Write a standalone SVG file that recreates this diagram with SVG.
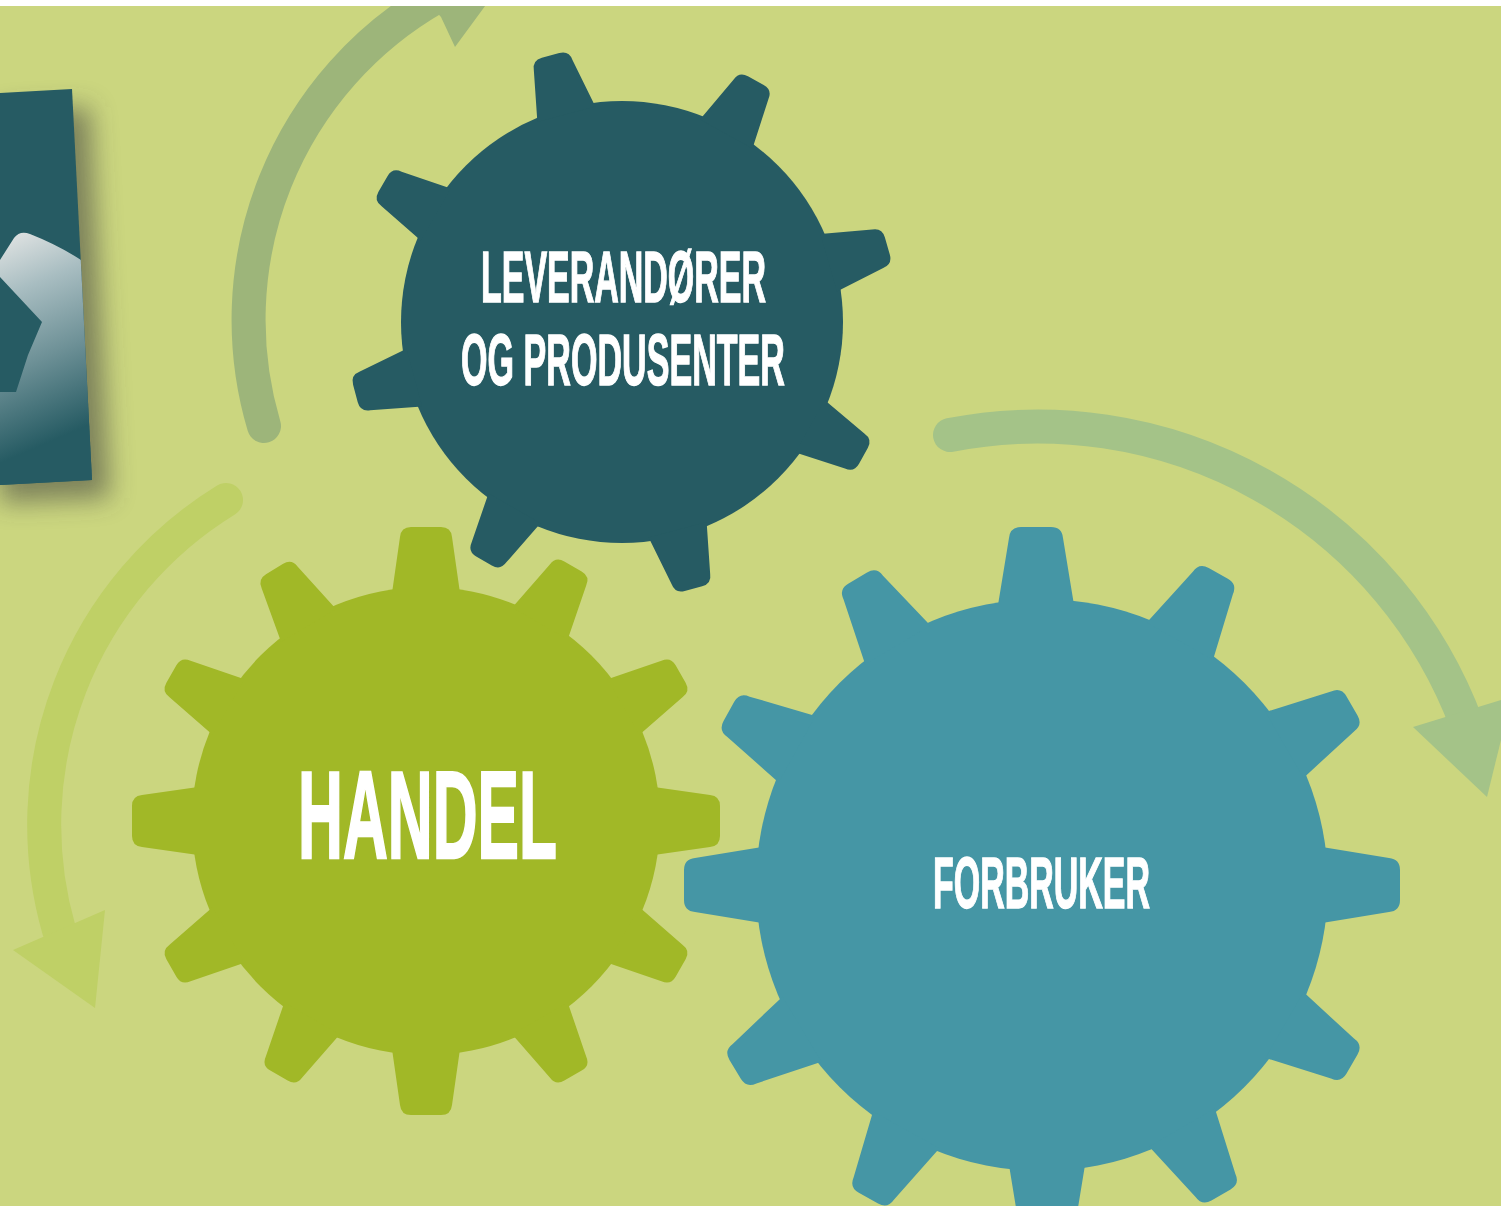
<svg xmlns="http://www.w3.org/2000/svg" width="1501" height="1206" viewBox="0 0 1501 1206">
<style>
.lbl{font-family:"Liberation Sans",Arial,sans-serif;font-weight:700;fill:#fff;stroke:#fff;stroke-width:1.4}
.arc{fill:none;stroke-width:34;stroke-linecap:round}
.g1{fill:#265B63}.g2{fill:#A1B827}.g3{fill:#4596A5}
</style>
<defs>
<clipPath id="page"><rect x="0" y="6" width="1501" height="1200"/></clipPath>
<clipPath id="panelClip"><polygon points="0,93 72,89 92,480 0,485"/></clipPath>
<linearGradient id="cogFade" gradientUnits="userSpaceOnUse" x1="20" y1="235" x2="100" y2="420">
<stop offset="0" stop-color="#DADFDF"/><stop offset=".25" stop-color="#A8BDC1"/><stop offset=".6" stop-color="#6E9197"/><stop offset="1" stop-color="#265B63"/>
</linearGradient>
<filter id="shadow" x="-60%" y="-20%" width="220%" height="140%"><feGaussianBlur stdDeviation="13"/></filter>
<path id="t1" d="M-30,-215 L-20,-266 Q-19,-276 -9,-276 L9,-276 Q19,-276 20,-266 L30,-215 Z"/>
<path id="t2a" d="M-34,-228 L-26,-284 Q-25,-294 -15,-294 L15,-294 Q25,-294 26,-284 L34,-228 Z"/>
<path id="t2d" d="M-32,-228 L-21,-284 Q-20,-294 -10,-294 L10,-294 Q20,-294 21,-284 L32,-228 Z"/>
<path id="t3a" d="M-38,-280 L-27,-347 Q-26,-358 -15,-358 L15,-358 Q26,-358 27,-347 L38,-280 Z"/>
<path id="t3d" d="M-38,-280 L-23,-347 Q-22,-358 -11,-358 L11,-358 Q22,-358 23,-347 L38,-280 Z"/>
</defs>
<rect width="1501" height="1206" fill="#fff"/>
<g clip-path="url(#page)">
<rect x="0" y="6" width="1501" height="1200" fill="#CBD67F"/>
<g id="connectors">
<g id="arrow-top"><path class="arc" stroke="#9DB57A" d="M264,426 A372,372 0 0 1 436,-3"/><polygon fill="#9DB57A" points="441,17 455,47 510,-28 400,-28"/></g>
<g id="arrow-right"><path class="arc" stroke="#A4C388" d="M950,435 A458,458 0 0 1 1467,725"/><polygon fill="#A4C388" points="1413,727 1501,700 1501,740 1487,797"/></g>
<g id="arrow-left"><path class="arc" stroke="#BFD066" d="M226,500 A381,381 0 0 0 59,930"/><polygon fill="#BFD066" points="13,950 105,910 95,1008"/></g>
</g>
<g id="panel">
<polygon points="0,111 90,107 110,498 0,503" fill="#3c3c3c" opacity=".55" filter="url(#shadow)"/>
<polygon points="0,93 72,89 92,480 0,485" fill="#265B63"/>
<g clip-path="url(#panelClip)">
<path d="M0,260 L14,238 Q20,230 30,234 Q58,245 81,260 L100,490 L0,490 Z" fill="url(#cogFade)"/>
<polygon points="0,277 42,322 28,355 16,392 0,392" fill="#265B63"/>
</g>
</g>
<g id="node-forbruker" class="g3">
<circle cx="1042" cy="885" r="286"/>
<use href="#t3a" transform="translate(1036 885)"/><use href="#t3d" transform="translate(1042 885) rotate(29.5)"/><use href="#t3d" transform="translate(1042 885) rotate(60)"/><use href="#t3a" transform="translate(1042 885) rotate(90)"/><use href="#t3d" transform="translate(1042 885) rotate(120)"/><use href="#t3d" transform="translate(1042 885) rotate(150)"/><use href="#t3a" transform="translate(1047 885) rotate(180)"/><use href="#t3d" transform="translate(1042 885) rotate(209)"/><use href="#t3d" transform="translate(1042 885) rotate(239)"/><use href="#t3a" transform="translate(1042 885) rotate(270)"/><use href="#t3d" transform="translate(1042 885) rotate(299)"/><use href="#t3d" transform="translate(1042 885) rotate(329)"/>
<text class="lbl" x="933" y="908" font-size="72" textLength="217" lengthAdjust="spacingAndGlyphs">FORBRUKER</text>
</g>
<g id="node-handel" class="g2">
<circle cx="426" cy="821" r="234"/>
<use href="#t2a" transform="translate(426 821)"/><use href="#t2d" transform="translate(426 821) rotate(30)"/><use href="#t2d" transform="translate(426 821) rotate(60)"/><use href="#t2a" transform="translate(426 821) rotate(90)"/><use href="#t2d" transform="translate(426 821) rotate(120)"/><use href="#t2d" transform="translate(426 821) rotate(150)"/><use href="#t2a" transform="translate(426 821) rotate(180)"/><use href="#t2d" transform="translate(426 821) rotate(210)"/><use href="#t2d" transform="translate(426 821) rotate(240)"/><use href="#t2a" transform="translate(426 821) rotate(270)"/><use href="#t2d" transform="translate(426 821) rotate(300)"/><use href="#t2d" transform="translate(426 821) rotate(329)"/>
<text class="lbl" x="298" y="858" font-size="125" textLength="259" lengthAdjust="spacingAndGlyphs" style="stroke-width:2.4">HANDEL</text>
</g>
<g id="node-leverandorer" class="g1">
<circle cx="622" cy="322" r="221"/>
<use href="#t1" transform="translate(622 322) rotate(-15)"/><use href="#t1" transform="translate(622 322) rotate(29)"/><use href="#t1" transform="translate(622 322) rotate(74)"/><use href="#t1" transform="translate(622 322) rotate(119)"/><use href="#t1" transform="translate(622 322) rotate(165)"/><use href="#t1" transform="translate(622 322) rotate(210)"/><use href="#t1" transform="translate(622 322) rotate(255)"/><use href="#t1" transform="translate(622 322) rotate(300)"/>
<text class="lbl" x="481" y="302" font-size="73" textLength="285" lengthAdjust="spacingAndGlyphs">LEVERANDØRER</text>
<text class="lbl" x="461" y="385" font-size="73" textLength="324" lengthAdjust="spacingAndGlyphs">OG PRODUSENTER</text>
</g>
</g>
</svg>
